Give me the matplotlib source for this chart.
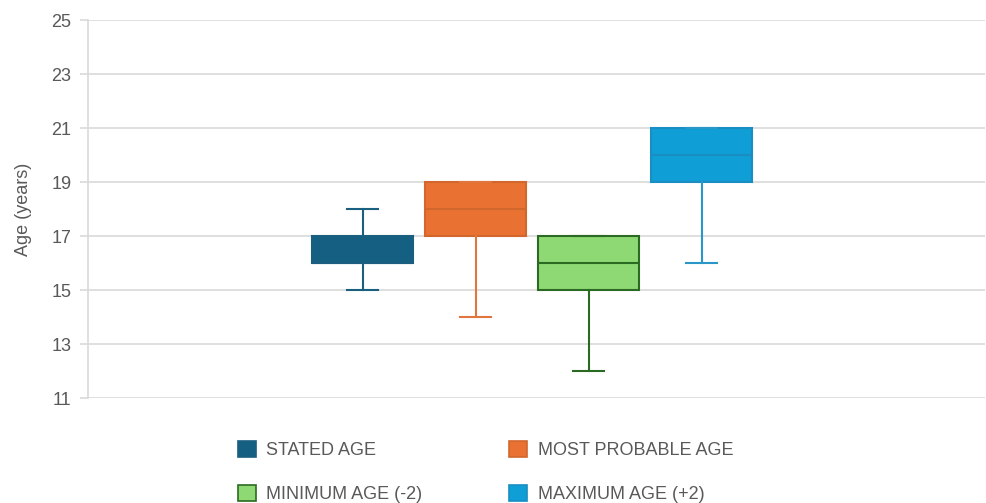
import matplotlib.pyplot as plt
from matplotlib.patches import Patch

plt.rcParams['font.family'] = ['Liberation Sans', 'DejaVu Sans']

# box summary values (years)
series = ["STATED AGE", "MOST PROBABLE AGE", "MINIMUM AGE (-2)", "MAXIMUM AGE (+2)"]
whislo = [15, 14, 12, 16]
q1 = [16, 17, 15, 19]
med = [16, 18, 16, 20]
q3 = [17, 19, 17, 21]
whishi = [18, 19, 17, 21]

fills = ["#156082", "#E97132", "#8ED973", "#0F9ED5"]
edges = ["#1A5F80", "#D2672E", "#2B6A22", "#1A8EC2"]
whisk = ["#1A5F80", "#E0753D", "#2B6A22", "#2A97C9"]
positions = [-1.5, -0.5, 0.5, 1.5]

fig = plt.figure(figsize=(9.87, 5.03), dpi=100)
ax = fig.add_axes([0.0892, 0.2087, 0.909, 0.7513])

for i in range(len(series)):
    st = [dict(whislo=whislo[i], q1=q1[i], med=med[i], q3=q3[i], whishi=whishi[i], fliers=[])]
    ax.bxp(st, positions=[positions[i]], widths=0.9, capwidths=0.27, patch_artist=True,
           showfliers=False,
           boxprops=dict(facecolor=fills[i], edgecolor=edges[i], linewidth=1.5),
           medianprops=dict(color=edges[i], linewidth=1.5),
           whiskerprops=dict(color=whisk[i], linewidth=1.5),
           capprops=dict(color=whisk[i], linewidth=1.5), zorder=3)

ax.set_xlim(-3.93, 4.01)
ax.set_ylim(11, 25)
ax.set_yticks(range(11, 26, 2))
ax.set_xticks([])
ax.grid(axis='y', color='#D9D9D9', linewidth=1.2, zorder=0)
ax.set_axisbelow(True)
for s in ['top', 'right', 'bottom']:
    ax.spines[s].set_visible(False)
ax.spines['left'].set_color('#D9D9D9')
ax.spines['left'].set_linewidth(1.2)
ax.tick_params(axis='y', length=6, color='#D9D9D9', width=1.2, labelsize=13,
               labelcolor='#595959', pad=6)
ax.set_ylabel("Age (years)", fontsize=13, color='#595959', labelpad=14)

# legend fills column by column, so reorder to get row-wise layout
order = [0, 2, 1, 3]
handles = [Patch(facecolor=fills[i], edgecolor=edges[i], linewidth=1.2) for i in order]
labels = [series[i] for i in order]
fig.legend(handles, labels, ncol=2, loc='lower center', bbox_to_anchor=(0.492, -0.033),
           frameon=False, fontsize=13, labelcolor='#595959', handlelength=1.0,
           handleheight=1.0, columnspacing=4.8, handletextpad=0.6, labelspacing=1.45)

fig.savefig("out.png", dpi=100)
